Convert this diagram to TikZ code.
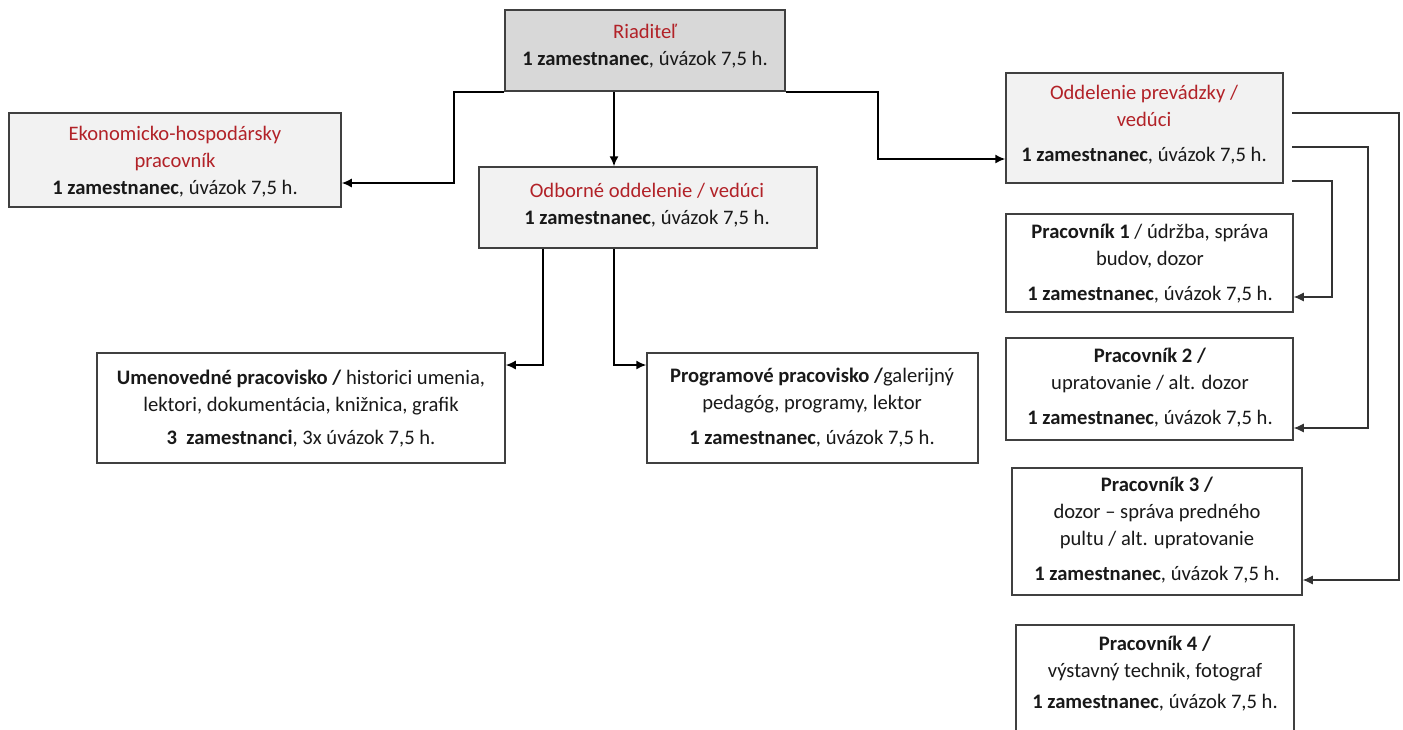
\documentclass[tikz,border=0pt]{standalone}
\usepackage{fontspec}
\setmainfont{Carlito}
\usetikzlibrary{arrows.meta,fit}
\definecolor{dred}{RGB}{178,34,40}
\definecolor{bord}{RGB}{64,64,64}
\definecolor{lgray}{RGB}{242,242,242}
\definecolor{mgray}{RGB}{216,216,216}
\definecolor{ink}{RGB}{25,25,25}
\tikzset{
  box/.style={draw=bord, line width=0.75pt, inner sep=0pt, fill=white},
  gbox/.style={box, fill=lgray},
  txt/.style={align=center, inner sep=0pt, text=ink, font=\fontsize{10.3}{13.5}\selectfont},
  conn/.style={draw=black, line width=0.75pt, -{Latex[length=5pt,width=4.5pt]}},
  thin/.style={draw=black!80, line width=0.55pt, -{Latex[length=5pt,width=4.5pt]}},
}
\newcommand{\zam}{\textbf{1 zamestnanec}, úvázok 7,5 h.}
\begin{document}
\begin{tikzpicture}[x=0.5pt,y=-0.5pt]
\path[use as bounding box] (0,0) rectangle (1403,729);
\clip (0,0) rectangle (1403,729);
% boxes
\node[box, fill=mgray, fit={(505,10) (785,91)}] (ria) {};
\node[gbox, fit={(9,113) (341,207)}] (eko) {};
\node[gbox, fit={(479,167) (817,248)}] (odb) {};
\node[gbox, fit={(1006,73) (1283,183)}] (odd) {};
\node[box, fit={(1006,214) (1293,312)}] (p1) {};
\node[box, fit={(1006,338) (1293,440)}] (p2) {};
\node[box, fit={(1012,468) (1302,595)}] (p3) {};
\node[box, fit={(1016,625) (1294,745)}] (p4) {};
\node[box, fit={(97,353) (505,463)}] (umen) {};
\node[box, fit={(647,353) (978,463)}] (prog) {};
% texts
\node[txt] (riat) at (645,46.5) {\textcolor{dred}{Riaditeľ}\\\zam};
\node[txt] (ekot) at (175,161.5) {\textcolor{dred}{Ekonomicko-hospodársky}\\\textcolor{dred}{pracovník}\\\zam};
\node[txt] (odbt) at (647,205) {\textcolor{dred}{Odborné oddelenie / vedúci}\\\zam};
\node[txt] (oddt) at (1144,124.5) {\textcolor{dred}{Oddelenie prevádzky /}\\\textcolor{dred}{vedúci}\\[4pt]\zam};
\node[txt] (p1t) at (1150,264) {\textbf{Pracovník 1} / údržba, správa\\budov, dozor\\[4pt]\zam};
\node[txt] (p2t) at (1150,387.5) {\textbf{Pracovník 2 /}\\upratovanie / alt. dozor\\[4pt]\zam};
\node[txt] (p3t) at (1157,530) {\textbf{Pracovník 3 /}\\dozor – správa predného\\pultu / alt. upratovanie\\[4pt]\zam};
\node[txt] (p4t) at (1155,673.5) {\textbf{Pracovník 4 /}\\výstavný technik, fotograf\\[2pt]\zam};
\node[txt] (ument) at (301,408.5) {\textbf{Umenovedné pracovisko /} historici umenia,\\lektori, dokumentácia, knižnica, grafik\\[3pt]\textbf{3\ \ zamestnanci}, 3x úvázok 7,5 h.};
\node[txt] (progt) at (812,408) {\textbf{Programové pracovisko /}galerijný\\pedagóg, programy, lektor\\[4pt]\zam};
% connector corners
\coordinate (cl) at (454,183);
\coordinate (cr) at (878,159);
\coordinate (cm) at (614,92);
\coordinate (bl) at (543,365);
\coordinate (br) at (614,365);
\coordinate (o1) at (1292,113);
\coordinate (o2) at (1292,147);
\coordinate (o3) at (1292,181);
\coordinate (v1) at (1399,580);
\coordinate (v2) at (1368,428);
\coordinate (v3) at (1332,297);
% connectors
\draw[conn] (ria.south west) -| (cl) -- (cl -| eko.east);
\draw[conn] (ria.south east) -| (cr) -- (cr -| odd.west);
\draw[conn] (cm) -- (cm |- odb.north);
\draw[conn] (bl |- odb.south) -- (bl) -- (bl -| umen.east);
\draw[conn] (br |- odb.south) -- (br) -- (br -| prog.west);
\draw[thin] (o1) -| (v1) -- (v1 -| p3.east);
\draw[thin] (o2) -| (v2) -- (v2 -| p2.east);
\draw[thin] (o3) -| (v3) -- (v3 -| p1.east);
\end{tikzpicture}
\end{document}
